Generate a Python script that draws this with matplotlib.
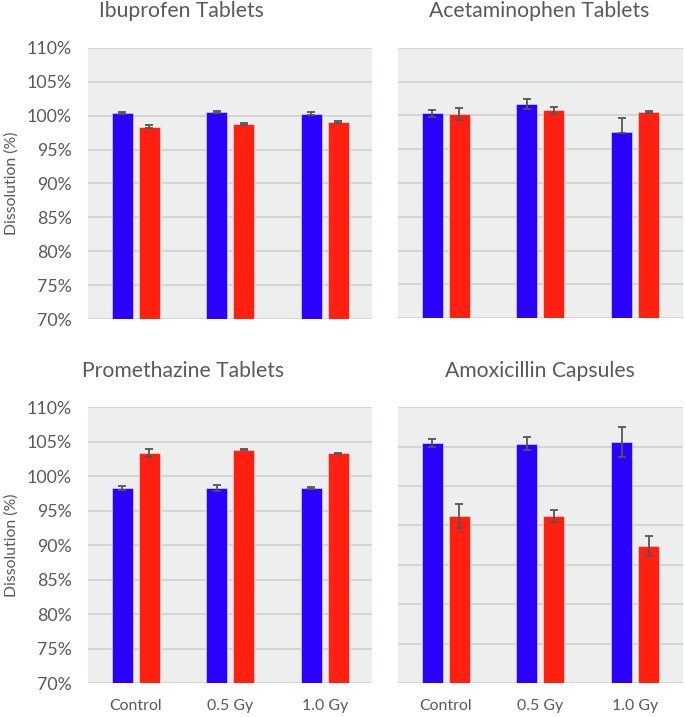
import matplotlib
matplotlib.use("Agg")
import matplotlib.pyplot as plt
import numpy as np

plt.rcParams['font.family'] = ['Lato', 'DejaVu Sans']

categories = ["Control", "0.5 Gy", "1.0 Gy"]

titles = ["Ibuprofen Tablets", "Acetaminophen Tablets",
          "Promethazine Tablets", "Amoxicillin Capsules"]

# blue series / red series values (%)
ibu_blue = [100.4, 100.55, 100.26]
ibu_red = [98.35, 98.75, 99.05]
ibu_blue_err = [0.15, 0.12, 0.2]
ibu_red_err = [0.2, 0.15, 0.1]

ace_blue = [100.3, 101.7, 97.5]
ace_red = [100.2, 100.75, 100.5]
ace_blue_err_lo = [0.55, 0.75, 0.15]
ace_blue_err_hi = [0.55, 0.75, 2.1]
ace_red_err = [0.9, 0.5, 0.1]

pro_blue = [98.3, 98.3, 98.3]
pro_red = [103.35, 103.85, 103.3]
pro_blue_err = [0.25, 0.38, 0.1]
pro_red_err = [0.55, 0.1, 0.1]

amo_blue = [100.43, 100.38, 100.56]
amo_red = [91.18, 91.18, 87.38]
amo_blue_err = [0.5, 0.8, 1.9]
amo_red_err = [1.55, 0.78, 1.25]

W, H = 685, 717
BLUE = "#2A00FF"
RED = "#FF2012"
GRAY_TXT = "#595959"
BG = "#EDEEEE"
GRID = "#D3D3D3"

fig = plt.figure(figsize=(W / 100, H / 100), dpi=100)
fig.patch.set_facecolor("white")


def rect(l, t, r, b):
    return [l / W, 1 - b / H, (r - l) / W, (b - t) / H]


panels = [
    dict(r=rect(88.3, 47.7, 372.0, 319.3), blue=ibu_blue, red=ibu_red,
         berr=[ibu_blue_err, ibu_blue_err], rerr=[ibu_red_err, ibu_red_err],
         ylim=(70, 110), ylab=True, xlab=False, title=titles[0], tx=181.7, ty=16.7),
    dict(r=rect(398.3, 47.7, 682.5, 318.3), blue=ace_blue, red=ace_red,
         berr=[ace_blue_err_lo, ace_blue_err_hi], rerr=[ace_red_err, ace_red_err],
         ylim=(70, 110), ylab=False, xlab=False, title=titles[1], tx=538.8, ty=16.7),
    dict(r=rect(88.3, 407.3, 372.0, 683.0), blue=pro_blue, red=pro_red,
         berr=[pro_blue_err, pro_blue_err], rerr=[pro_red_err, pro_red_err],
         ylim=(70, 110), ylab=True, xlab=True, title=titles[2], tx=183.0, ty=376.7),
    dict(r=rect(398.3, 407.3, 682.5, 683.0), blue=amo_blue, red=amo_red,
         berr=[amo_blue_err, amo_blue_err], rerr=[amo_red_err, amo_red_err],
         ylim=(70, 105), ylab=False, xlab=True, title=titles[3], tx=540.3, ty=376.7),
]

x = np.arange(len(categories))
bw = 0.222
off = 0.142

for p in panels:
    ax = fig.add_axes(p["r"])
    ax.set_facecolor(BG)
    for s in ax.spines.values():
        s.set_visible(False)
    lo, hi = p["ylim"]
    ax.set_ylim(lo, hi)
    ax.set_xlim(-0.5, 2.5)
    ticks = np.arange(lo, hi + 0.1, 5)
    for t in ticks:
        ax.axhline(t, color=GRID, lw=1.3, zorder=1)
    ax.bar(x - off, p["blue"], width=bw, bottom=0, color=BLUE,
           edgecolor="#C8C4FF", linewidth=0.6, zorder=2)
    ax.bar(x + off, p["red"], width=bw, color=RED,
           edgecolor="#FFC8C4", linewidth=0.6, zorder=2)
    ax.errorbar(x - off, p["blue"], yerr=np.array(p["berr"]), fmt="none",
                ecolor="#555555", elinewidth=1.3, capsize=3.2, capthick=1.3, zorder=3)
    ax.errorbar(x + off, p["red"], yerr=np.array(p["rerr"]), fmt="none",
                ecolor="#555555", elinewidth=1.3, capsize=3.2, capthick=1.3, zorder=3)
    ax.set_yticks(ticks)
    if p["ylab"]:
        ax.set_yticklabels([f"{int(t)}%" for t in ticks], fontsize=12.8, color=GRAY_TXT)
        ax.tick_params(axis="y", length=0, pad=12.0)
        ax.set_ylabel("Dissolution (%)", fontsize=11.3, color=GRAY_TXT, labelpad=5.5)
    else:
        ax.tick_params(axis="y", length=0, labelleft=False)
    ax.set_xticks(x)
    if p["xlab"]:
        ax.set_xticklabels(categories, fontsize=11.4, color=GRAY_TXT)
        ax.tick_params(axis="x", length=0, pad=11.5)
    else:
        ax.tick_params(axis="x", length=0, labelbottom=False)
    fig.text(p["tx"] / W, 1 - p["ty"] / H, p["title"], ha="center", va="baseline",
             fontsize=15.2, color=GRAY_TXT)

fig.savefig("out.png", dpi=100, facecolor="white")
